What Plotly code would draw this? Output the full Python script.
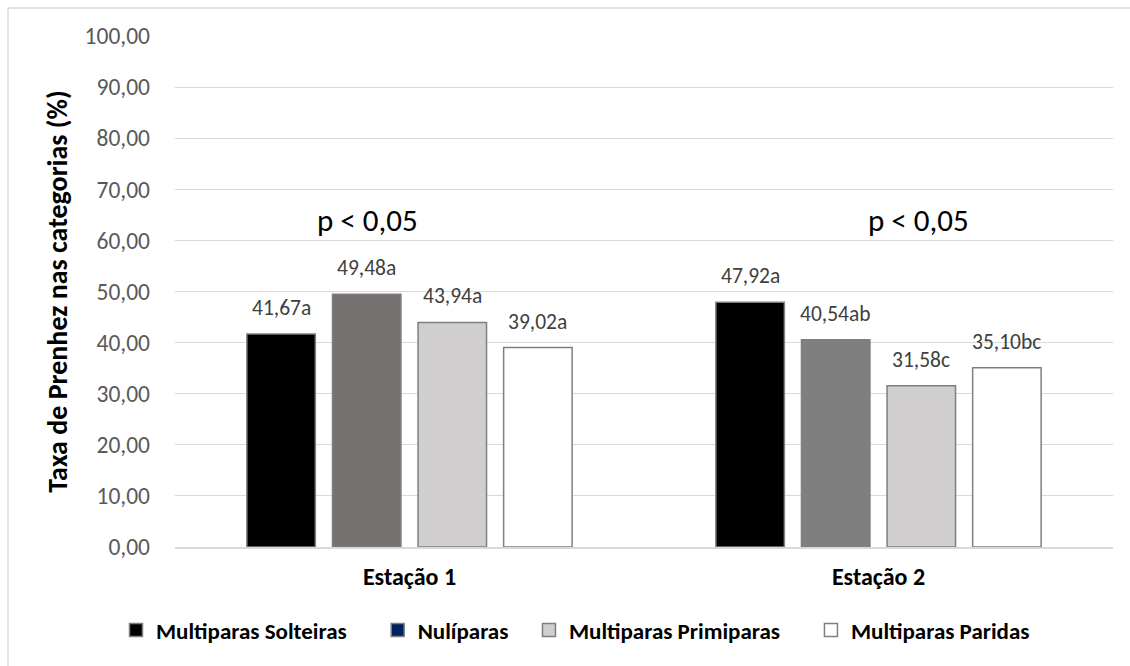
import plotly.graph_objects as go

# --- data ---------------------------------------------------------------
estacoes = ["Estação 1", "Estação 2"]
series = ["Multiparas Solteiras", "Nulíparas", "Multiparas Primiparas", "Multiparas Paridas"]
valores = {
    "Multiparas Solteiras": [41.67, 47.92],
    "Nulíparas": [49.48, 40.54],
    "Multiparas Primiparas": [43.94, 31.58],
    "Multiparas Paridas": [39.02, 35.10],
}
letras = {
    "Multiparas Solteiras": ["a", "a"],
    "Nulíparas": ["a", "ab"],
    "Multiparas Primiparas": ["a", "c"],
    "Multiparas Paridas": ["a", "bc"],
}
p_textos = ["p < 0,05", "p < 0,05"]
p_nivel = [64.0, 64.0]
y_ticks = [0, 10, 20, 30, 40, 50, 60, 70, 80, 90, 100]

# --- styling --------------------------------------------------------------
FONT = "Carlito, Calibri, Lato, sans-serif"
bar_colors = {
    "Multiparas Solteiras": ["#000000", "#000000"],
    "Nulíparas": ["#767171", "#7f7f7f"],
    "Multiparas Primiparas": ["#d0cece", "#d0cece"],
    "Multiparas Paridas": ["#ffffff", "#ffffff"],
}
legend_colors = {
    "Multiparas Solteiras": "#000000",
    "Nulíparas": "#002060",
    "Multiparas Primiparas": "#d0cece",
    "Multiparas Paridas": "#ffffff",
}
# extra trailing room after each legend label
legend_pad = {
    "Multiparas Solteiras": 5,
    "Nulíparas": 3,
    "Multiparas Primiparas": 5,
    "Multiparas Paridas": 0,
}
OUTLINE = "#7f7f7f"
BARGAP = 0.27
GROUPGAP = 0.2

W, H = 1130, 666
ML, MR, MT, MB = 175, 17, 36, 119


def fmt(v):
    return f"{v:.2f}".replace(".", ",")


fig = go.Figure()

for s in series:
    fig.add_trace(go.Bar(
        x=estacoes, y=valores[s], name=s, showlegend=False,
        marker=dict(color=bar_colors[s], line=dict(color=OUTLINE, width=1.5)),
        hoverinfo="skip",
    ))

# legend entries (square swatches)
for s in series:
    fig.add_trace(go.Scatter(
        x=[None], y=[None], mode="markers", name=s + "\u00a0" * legend_pad[s],
        marker=dict(symbol="square", size=13, color=legend_colors[s],
                    line=dict(color=OUTLINE, width=1.5)),
    ))

# value labels above each bar
slot = (1 - BARGAP) / len(series)
annotations = []
for i, s in enumerate(series):
    for c, v in enumerate(valores[s]):
        annotations.append(dict(
            x=c + (i - (len(series) - 1) / 2) * slot, y=v, xref="x", yref="y",
            text=fmt(v) + letras[s][c], showarrow=False,
            yanchor="middle", yshift=26,
            font=dict(family=FONT, size=21.5, color="#404040"),
        ))

# significance notes
p_offsets = [-0.09, 0.085]
for c, (t, lv) in enumerate(zip(p_textos, p_nivel)):
    annotations.append(dict(
        x=c + p_offsets[c], y=lv, xref="x", yref="y", text=t, showarrow=False,
        font=dict(family=FONT, size=31, color="#000000"),
    ))

pw, ph = W - ML - MR, H - MT - MB
px = lambda v: (v - ML) / pw
py = lambda v: (H - MB - v) / ph

fig.update_layout(
    width=W, height=H,
    margin=dict(l=ML, r=MR, t=MT, b=MB),
    paper_bgcolor="#ffffff", plot_bgcolor="#ffffff",
    barmode="group", bargap=BARGAP, bargroupgap=GROUPGAP,
    annotations=annotations,
    font=dict(family=FONT),
    legend=dict(
        orientation="h", x=px(116), xanchor="left", y=py(630), yanchor="middle",
        font=dict(family=FONT, size=23, color="#000000", weight="bold"),
        itemwidth=30,
    ),
    shapes=[
        dict(type="line", xref="paper", yref="paper", x0=px(8), x1=px(1130),
             y0=py(8), y1=py(8), line=dict(color="#d9d9d9", width=1.5)),
        dict(type="line", xref="paper", yref="paper", x0=px(8), x1=px(8),
             y0=py(8), y1=py(666), line=dict(color="#d9d9d9", width=1.5)),
    ],
)

fig.update_xaxes(
    showgrid=False, showline=True, linecolor="#d9d9d9", linewidth=1.5,
    ticks="", ticklabelstandoff=7,
    tickfont=dict(family=FONT, size=24, color="#000000", weight="bold"),
)
fig.update_yaxes(
    range=[0, 100], tickvals=y_ticks, ticktext=[fmt(v) for v in y_ticks],
    showgrid=True, gridcolor="#d9d9d9", gridwidth=1, zeroline=False,
    showline=False, ticks="", ticklabelstandoff=24,
    tickfont=dict(family=FONT, size=23.5, color="#595959"),
    title=dict(text="Taxa de Prenhez nas categorias (%)", standoff=8,
               font=dict(family=FONT, size=28, color="#000000", weight="bold")),
)

fig.write_html("out.html")
